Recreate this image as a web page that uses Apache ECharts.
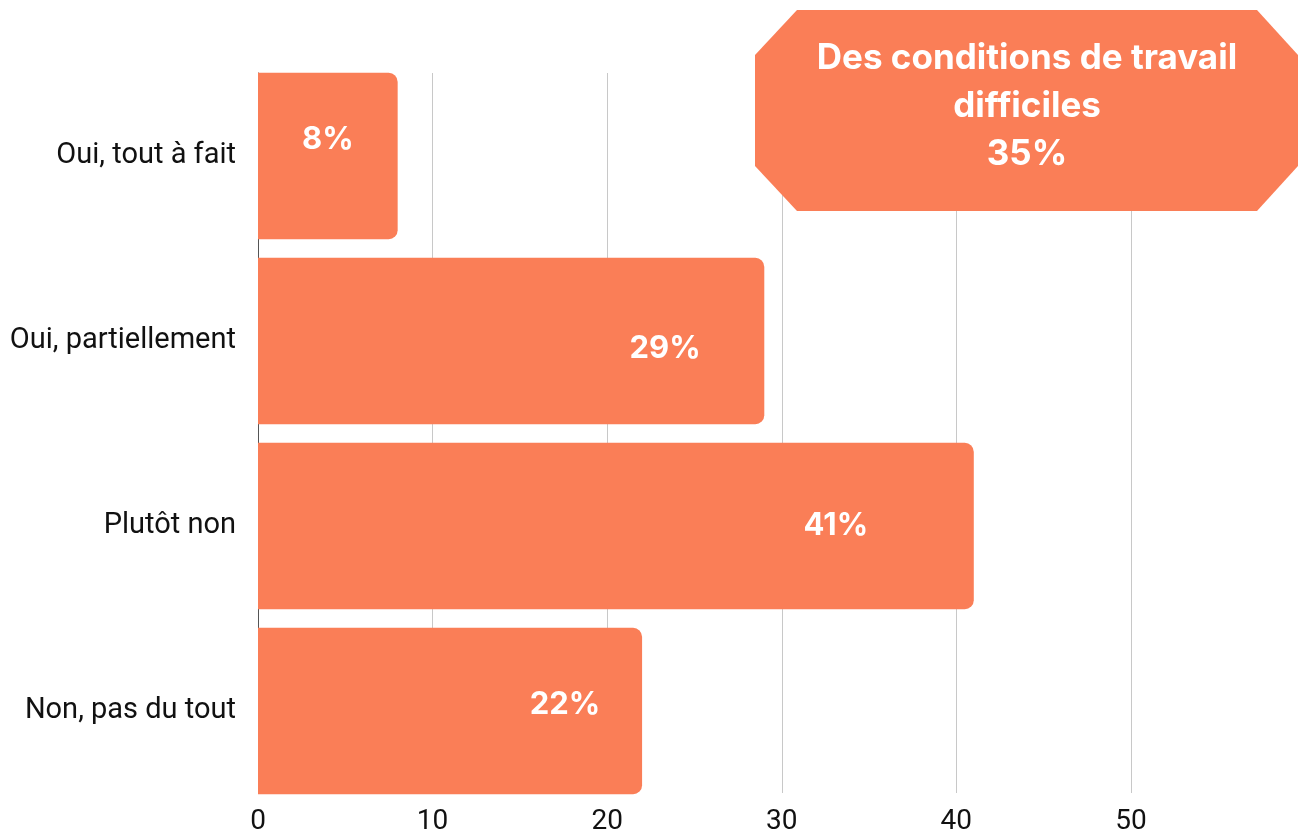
<!DOCTYPE html>
<html>
<head>
<meta charset="utf-8">
<script src="https://cdn.jsdelivr.net/npm/echarts@6/dist/echarts.min.js"></script>
<style>
  html, body { margin: 0; padding: 0; background: #fff; }
  #chart { width: 1308px; height: 836px; }
</style>
</head>
<body>
<div id="chart"></div>
<script>
// categories (top to bottom)
var categories = ['Oui, tout à fait', 'Oui, partiellement', 'Plutôt non', 'Non, pas du tout']
// values in %
var values = [8, 29, 41, 22]
// x axis ticks
var xMin = 0
var xMax = 60
var xStep = 10
// annotation box
var noteText = 'Des conditions de travail\ndifficiles'
var noteValue = 35

// label offsets from the bar centre (style only)
var labelOffsets = [[0, -16], [154, 8], [220, 0], [115, -6]]

var barColor = '#FA7E57'

var myChart = echarts.init(document.getElementById('chart'))

var barData = values.map(function (v, i) {
  return {
    value: v,
    label: { offset: labelOffsets[i] }
  }
})

var option = {
  animation: false,
  grid: [
    // bars
    { left: 258, right: 2.5, top: 63.5, bottom: 32.5 },
    // gridlines, y axis line + tick labels
    { left: 258, right: 2.5, top: 73, bottom: 42 }
  ],
  xAxis: [
    {
      gridIndex: 0,
      type: 'value',
      min: xMin,
      max: xMax,
      interval: xStep,
      show: false
    },
    {
      gridIndex: 1,
      type: 'value',
      min: xMin,
      max: xMax,
      interval: xStep,
      axisLine: { show: false },
      axisTick: { show: false },
      axisLabel: {
        color: '#111',
        fontFamily: 'Roboto',
        fontSize: 28,
        margin: 15,
        showMaxLabel: false
      },
      splitLine: {
        show: true,
        showMinLine: false,
        showMaxLine: false,
        lineStyle: { color: '#c8c8c8', width: 1 }
      }
    }
  ],
  yAxis: [
    {
      gridIndex: 0,
      type: 'category',
      inverse: true,
      data: categories,
      axisLine: { show: false },
      axisTick: { show: false },
      axisLabel: {
        color: '#111',
        fontFamily: 'Roboto',
        fontSize: 29,
        margin: 22
      }
    },
    {
      gridIndex: 1,
      type: 'category',
      inverse: true,
      data: categories,
      axisLine: { show: true, lineStyle: { color: '#555', width: 1 } },
      axisTick: { show: false },
      axisLabel: { show: false }
    }
  ],
  series: [
    {
      type: 'bar',
      xAxisIndex: 0,
      yAxisIndex: 0,
      data: barData,
      barCategoryGap: '10%',
      itemStyle: {
        color: barColor,
        borderRadius: [0, 9, 9, 0]
      },
      label: {
        show: true,
        position: 'inside',
        formatter: '{c}%',
        color: '#fff',
        fontFamily: 'Inter',
        fontWeight: 'bold',
        fontSize: 31
      }
    }
  ],
  graphic: [
    {
      type: 'polygon',
      shape: {
        points: [
          [797, 10], [1257, 10], [1298, 55], [1298, 166],
          [1257, 211], [797, 211], [755, 166], [755, 55]
        ]
      },
      style: { fill: barColor },
      z: 10
    },
    {
      type: 'text',
      x: 1027,
      y: 106,
      z: 11,
      style: {
        text: noteText + '\n' + noteValue + '%',
        fill: '#fff',
        font: 'bold 35px Inter',
        lineHeight: 48,
        align: 'center',
        verticalAlign: 'middle'
      }
    }
  ]
}

myChart.setOption(option)
</script>
</body>
</html>
